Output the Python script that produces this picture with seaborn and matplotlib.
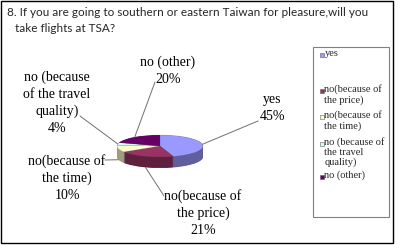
import numpy as np
import matplotlib
matplotlib.use("Agg")
import matplotlib.pyplot as plt
import matplotlib.patches as mpatches
import matplotlib.colors as mcolors
import seaborn as sns

# ---- data ----
categories = ["yes", "no(because of\nthe price)", "no(because of\nthe time)",
              "no (because\nof the travel\nquality)", "no (other)"]
legend_labels = ["yes", "no(because of\nthe price)", "no(because of\nthe time)",
                 "no (because of\nthe travel\nquality)", "no (other)"]
values = [45, 21, 10, 4, 20]
colors = ["#9999FF", "#993366", "#FFFFCC", "#CCFFFF", "#660066"]
title_line1 = "8. If you are going to southern or eastern Taiwan for pleasure,will you"
title_line2 = "take flights at TSA?"

sns.set_theme(style="white")
W, H = 398, 245
fig = plt.figure(figsize=(W / 100, H / 100), dpi=100)
fig.patch.set_facecolor("white")

# overlay in pixel coords
ov = fig.add_axes([0, 0, 1, 1])
ov.set_xlim(0, W)
ov.set_ylim(H, 0)
ov.axis("off")

# pie axes: pixel box x 110..210, y 125..180 ; radius 43 px horizontally, 11 px vertically
cx, cy, rx, ry, thick = 160, 146, 43, 11, 11
px0, px1, py0, py1 = 110, 210, 125, 180
pax = fig.add_axes([px0 / W, 1 - py1 / H, (px1 - px0) / W, (py1 - py0) / H])
pax.set_zorder(2)
ov.set_zorder(3)
ov.patch.set_alpha(0)

def dark(c, f):
    r, g, b = mcolors.to_rgb(c)
    return (r * f, g * f, b * f)

side_colors = [dark(c, 0.62) for c in colors]
d_units = thick / ry
for d in np.linspace(d_units, 0.02, 25):
    pax.pie(values, colors=side_colors, startangle=90, counterclock=False,
            radius=1, center=(0, -d), wedgeprops=dict(linewidth=0))
pax.pie(values, colors=colors, startangle=90, counterclock=False,
        radius=1, center=(0, 0), wedgeprops=dict(linewidth=0.3, edgecolor=(0.3, 0.3, 0.3, 0.35)))
pax.set_aspect("auto")
pax.set_xlim(-(cx - px0) / rx, (px1 - cx) / rx)
pax.set_ylim(-(py1 - cy) / ry, (cy - py0) / ry)
pax.axis("off")

# anchors on pie computed from wedge angles
tot = sum(values)
anchors = []
start = 90.0
for v in values:
    span = 360.0 * v / tot
    mid = np.deg2rad(start - span / 2)
    x, y = np.cos(mid), np.sin(mid)
    if y < 0:
        y -= d_units
    disp = pax.transData.transform((x, y))
    anchors.append(ov.transData.inverted().transform(disp))
    start -= span

# label layout (text center, line start)
label_text_pos = [(272, 108), (203, 213), (67, 178), (57, 103), (168, 71)]
line_start = [(258, 121), (164, 196), (105, 160), (80, 116), (155, 82)]
lab_font = dict(family=["Liberation Serif", "DejaVu Serif"], size=10)
for cat, v, tp, ls, an in zip(categories, values, label_text_pos, line_start, anchors):
    ov.text(tp[0], tp[1], f"{cat}\n{v}%", ha="center", va="center",
            linespacing=1.37, color="black", **lab_font)
    ov.plot([an[0], ls[0]], [an[1], ls[1]], color="#707070", lw=0.7)

# title (fit line 1 to ~358 px width)
t1 = ov.text(7, 12, title_line1, ha="left", va="center",
             family=["Lato", "DejaVu Sans"], size=10)
renderer = fig.canvas.get_renderer()
w1 = t1.get_window_extent(renderer).width
fs = 10 * 358.0 / w1
t1.set_fontsize(fs)
ov.text(15, 28, title_line2, ha="left", va="center",
        family=["Lato", "DejaVu Sans"], size=fs)

# outer border
ov.add_patch(mpatches.Rectangle((1, 1), 392, 242, fill=False, edgecolor="black", lw=1))

# legend box
ov.add_patch(mpatches.Rectangle((313, 47), 76, 170, fill=False, edgecolor="#808080", lw=0.8))
leg_y = [55, 91, 117, 144, 177]
leg_font = dict(family=["Liberation Serif", "DejaVu Serif"], size=7.5)
for lab, c, y in zip(legend_labels, colors, leg_y):
    ov.add_patch(mpatches.Rectangle((320, y - 2), 4, 4, facecolor=c, edgecolor="#606060", lw=0.4))
    ov.text(324.5, y - 6.5, lab, ha="left", va="top", linespacing=1.1, **leg_font)

fig.savefig("out.png", dpi=100, facecolor="white")
